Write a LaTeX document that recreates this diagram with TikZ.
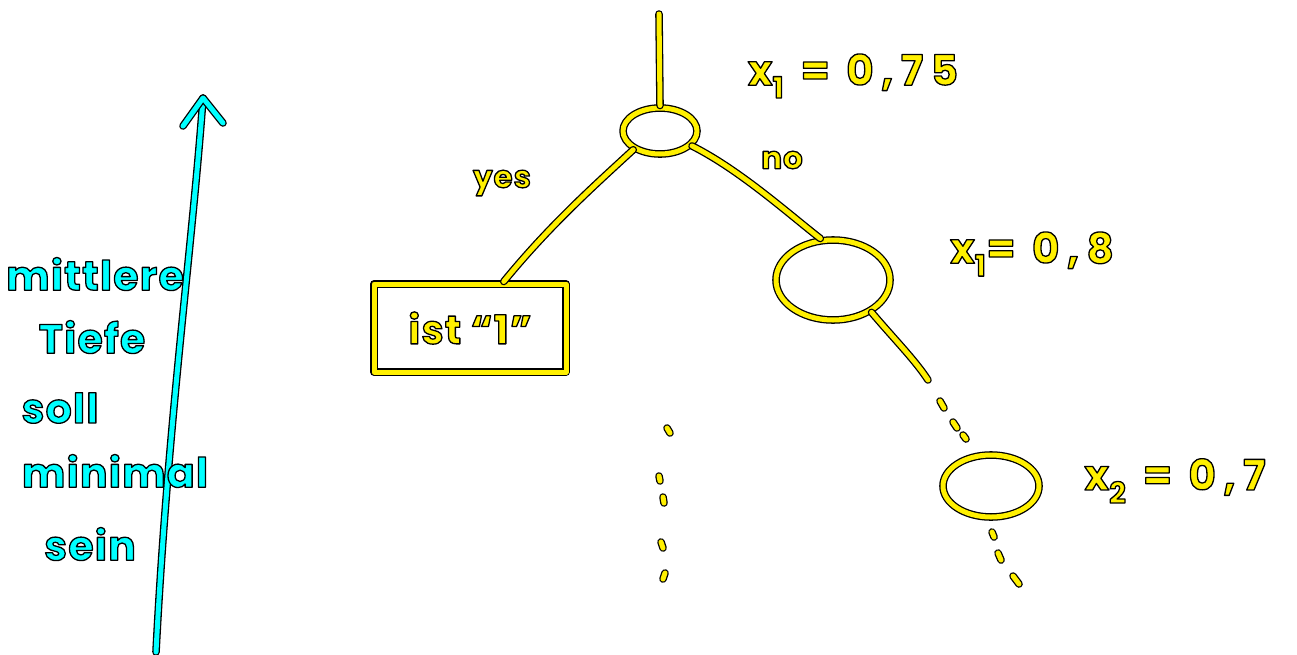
\documentclass[tikz,border=0pt]{standalone}
\usepackage{fontspec}
\setmainfont{Poppins}
\newfontfamily\hand[LetterSpace=18]{Poppins}
\newfontfamily\handc[LetterSpace=3]{Poppins}
\usetikzlibrary{shapes.geometric}
\newcommand{\outl}[1]{\special{pdf:literal direct 2 Tr 1.3 w 0 0 0 RG}#1\special{pdf:literal direct 0 Tr}}
\definecolor{ylw}{RGB}{255,240,0}
\definecolor{cyn}{RGB}{0,255,255}
\begin{document}
\begin{tikzpicture}[x=1pt,y=-1pt,line cap=round,line join=round,
  ystroke/.style={draw=ylw,line width=5pt,preaction={draw=black,line width=7.6pt}},
  cstroke/.style={draw=cyn,line width=5pt,preaction={draw=black,line width=7.6pt}},
  ylab/.style={text=ylw,font=\hand\bfseries\fontsize{42}{44}\selectfont,inner sep=0pt},
  slab/.style={text=ylw,font=\handc\bfseries\fontsize{31}{33}\selectfont,inner sep=0pt},
  clab/.style={text=cyn,font=\handc\bfseries\fontsize{41}{44}\selectfont,inner sep=0pt},
  enode/.style={ellipse,ystroke,inner sep=0pt},
  dotmark/.style={ystroke}
]
\useasboundingbox (0,0) rectangle (1297,654);
% cyan arrow
\coordinate (abase) at (156,652);
\coordinate (atip) at (203,98);
\coordinate (wl) at (183,126);
\coordinate (wr) at (223,123);
\draw[cstroke] (abase) .. controls (168,420) and (192,250) .. (atip);
\draw[cstroke] (wl) -- (atip) -- (wr);
% cyan text
\node[clab] (t1) at (95,274) {\outl{mittlere}};
\node[clab] (t2) at (92,337) {\outl{Tiefe}};
\node[clab] (t3) at (60,408) {\outl{soll}};
\node[clab] (t4) at (115,471) {\outl{minimal}};
\node[clab] (t5) at (90,544) {\outl{sein}};
% tree
\coordinate (top) at (659,14);
\node[enode,minimum width=74pt,minimum height=46pt] (root) at (660,131) {};
\node[enode,minimum width=114pt,minimum height=80pt] (n2) at (833,280) {};
\node[enode,minimum width=96pt,minimum height=62pt] (n3) at (991,486) {};
\node[rectangle,ystroke,minimum width=192pt,minimum height=88pt,inner sep=0pt] (leaf) at (470,328) {};
\node[ylab,font=\handc\bfseries\fontsize{40}{42}\selectfont] (leaftext) at (leaf.center) {\outl{ist “1”}};
\draw[ystroke] (top) -- (root.north);
\draw[ystroke] (root.215) .. controls (595,185) and (550,225) .. (leaf.54);
\draw[ystroke] (root.335) .. controls (740,170) and (790,215) .. (n2.107);
\coordinate (d2end) at (928,380);
\draw[ystroke] (n2.320) .. controls (895,340) and (915,360) .. (d2end);
% labels
\node[ylab] (l1) at (853,76) {\outl{x\textsubscript{1} = 0,75}};
\node[slab] (lyes) at (502,183) {\outl{yes}};
\node[slab] (lno) at (782,160) {\outl{no}};
\node[ylab] (l2) at (1032,254) {\outl{x\textsubscript{1}= 0,8}};
\node[ylab] (l3) at (1175,481) {\outl{x\textsubscript{2} = 0,7}};
% dots after n2
\coordinate (a1) at (940,401); \coordinate (a2) at (944,408);
\coordinate (b1) at (953,422); \coordinate (b2) at (957,428);
\coordinate (c1) at (963,435); \coordinate (c2) at (966,439);
\draw[dotmark] (a1) -- (a2);
\draw[dotmark] (b1) -- (b2);
\draw[dotmark] (c1) -- (c2);
% dots below n3
\coordinate (e1) at (992,532); \coordinate (e2) at (994,537);
\coordinate (f1) at (998,553); \coordinate (f2) at (1001,560);
\coordinate (g1) at (1013,576); \coordinate (g2) at (1019,584);
\draw[dotmark] (e1) -- (e2);
\draw[dotmark] (f1) -- (f2);
\draw[dotmark] (g1) -- (g2);
% middle dots
\coordinate (m1) at (667,428); \coordinate (m2) at (670,433);
\coordinate (m3) at (659,476); \coordinate (m4) at (660,481);
\coordinate (m5) at (663,497); \coordinate (m6) at (664,503);
\coordinate (m7) at (661,542); \coordinate (m8) at (663,548);
\coordinate (m9) at (665,573); \coordinate (m10) at (663,579);
\draw[dotmark] (m1) -- (m2);
\draw[dotmark] (m3) -- (m4);
\draw[dotmark] (m5) -- (m6);
\draw[dotmark] (m7) -- (m8);
\draw[dotmark] (m9) -- (m10);
\end{tikzpicture}
\end{document}
